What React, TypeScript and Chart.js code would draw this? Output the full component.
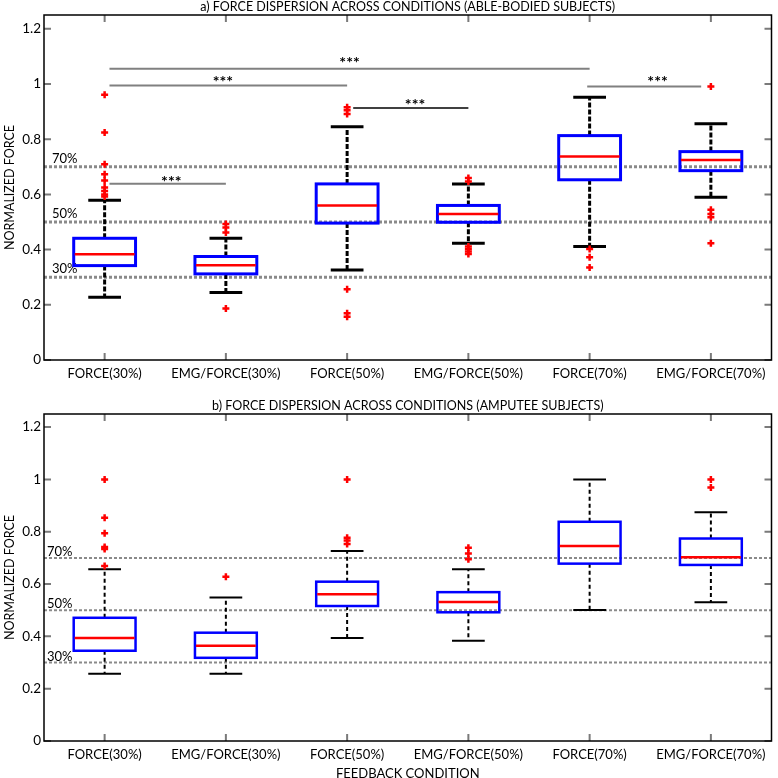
import React, { useEffect, useRef } from "react";
import { Chart, registerables } from "chart.js";

Chart.register(...registerables);

// ---------- data ----------
const categories = [
  "FORCE(30%)",
  "EMG/FORCE(30%)",
  "FORCE(50%)",
  "EMG/FORCE(50%)",
  "FORCE(70%)",
  "EMG/FORCE(70%)",
];
const yTickValues = [0, 0.2, 0.4, 0.6, 0.8, 1, 1.2];
const targetLevels = [0.3, 0.5, 0.7];
const targetLabels = ["30%", "50%", "70%"];
const yAxisTitle = "NORMALIZED FORCE";
const xAxisTitle = "FEEDBACK CONDITION";

// a) able-bodied subjects
const ableTitle = "a) FORCE DISPERSION ACROSS CONDITIONS (ABLE-BODIED SUBJECTS)";
const ableQ1 = [0.342, 0.312, 0.496, 0.499, 0.653, 0.686];
const ableMedian = [0.383, 0.343, 0.56, 0.529, 0.737, 0.725];
const ableQ3 = [0.441, 0.375, 0.638, 0.56, 0.813, 0.755];
const ableLow = [0.227, 0.245, 0.326, 0.423, 0.411, 0.59];
const ableHigh = [0.579, 0.441, 0.845, 0.638, 0.952, 0.856];
const ableOutliers = [
  [0.961, 0.824, 0.709, 0.673, 0.65, 0.625, 0.612, 0.6, 0.592],
  [0.493, 0.48, 0.462, 0.187],
  [0.916, 0.905, 0.891, 0.256, 0.169, 0.157],
  [0.659, 0.647, 0.411, 0.402, 0.393, 0.384],
  [0.402, 0.372, 0.335],
  [0.991, 0.544, 0.529, 0.517, 0.423],
];
// significance brackets (x in category units, 1..6)
const ableSigFrom = [1.04, 1.04, 1.04, 3.05, 4.98];
const ableSigTo = [2, 3, 5, 4, 5.92];
const ableSigY = [0.639, 0.995, 1.055, 0.913, 0.991];
const ableSigStarX = [1.55, 1.975, 3.02, 3.56, 5.56];
const ableSigStarY = [0.656, 1.018, 1.088, 0.933, 1.018];
const ableSigText = ["***", "***", "***", "***", "***"];

// b) amputee subjects
const ampTitle = "b) FORCE DISPERSION ACROSS CONDITIONS (AMPUTEE SUBJECTS)";
const ampQ1 = [0.345, 0.318, 0.516, 0.492, 0.678, 0.673];
const ampMedian = [0.394, 0.364, 0.561, 0.531, 0.745, 0.702];
const ampQ3 = [0.471, 0.414, 0.609, 0.569, 0.838, 0.774];
const ampLow = [0.257, 0.257, 0.394, 0.383, 0.501, 0.53];
const ampHigh = [0.657, 0.549, 0.726, 0.657, 1.0, 0.874];
const ampOutliers = [
  [1.0, 0.853, 0.794, 0.742, 0.734, 0.669],
  [0.628],
  [1.0, 0.777, 0.766, 0.753],
  [0.739, 0.717, 0.695],
  [],
  [1.0, 0.969],
];

// ---------- styles ----------
const FONT = "Lato, 'Open Sans', sans-serif";
const sigLineColors = ["#808080", "#808080", "#808080", "#000000", "#808080"];
const sigLineWidths = [2, 2, 2, 1.5, 2];

type PanelData = {
  title: string;
  q1: number[];
  median: number[];
  q3: number[];
  low: number[];
  high: number[];
  outliers: number[][];
  sigFrom: number[];
  sigTo: number[];
  sigY: number[];
  sigStarX: number[];
  sigStarY: number[];
  sigText: string[];
  xTitle: string | null;
};

type PanelStyle = {
  padTop: number;
  xAxisHeight: number;
  titleY: number;
  xTitleY: number;
  boxLine: number;
  whiskerLine: number;
  whiskerDash: number[];
  refLine: number;
  pctX: number;
  pctGap: number;
};

const W = 778;
const H = 389;

function BoxPanel({ d, s }: { d: PanelData; s: PanelStyle }) {
  const ref = useRef<HTMLCanvasElement>(null);

  useEffect(() => {
    const canvas = ref.current;
    if (!canvas) return;

    const points = d.outliers.flatMap((arr, i) =>
      arr.map((v) => ({ x: i + 1, y: v }))
    );

    const textCenterY = (ctx: CanvasRenderingContext2D, txt: string, cy: number) => {
      const m = ctx.measureText(txt);
      return cy + (m.actualBoundingBoxAscent - m.actualBoundingBoxDescent) / 2;
    };

    const boxPlugin = {
      id: "boxdraw",
      beforeDatasetsDraw(chart: any) {
        const { ctx, chartArea: a } = chart;
        const x = chart.scales.x;
        const y = chart.scales.y;
        const step = x.getPixelForValue(2) - x.getPixelForValue(1);
        const halfBox = step * 0.255;
        const halfCap = step * 0.135;

        ctx.save();
        ctx.beginPath();
        ctx.rect(a.left, a.top, a.right - a.left, a.bottom - a.top);
        ctx.clip();

        // target reference lines
        ctx.strokeStyle = "#8a8a8a";
        ctx.lineWidth = s.refLine;
        ctx.setLineDash([3, 2]);
        targetLevels.forEach((v) => {
          const py = y.getPixelForValue(v);
          ctx.beginPath();
          ctx.moveTo(a.left, py);
          ctx.lineTo(a.right, py);
          ctx.stroke();
        });
        ctx.setLineDash([]);

        // target labels
        ctx.fillStyle = "#000";
        ctx.font = `13px ${FONT}`;
        ctx.textAlign = "left";
        ctx.textBaseline = "alphabetic";
        targetLevels.forEach((v, i) => {
          const py = y.getPixelForValue(v);
          ctx.fillText(targetLabels[i], a.left + s.pctX, py - s.pctGap);
        });

        // significance brackets
        d.sigFrom.forEach((f, i) => {
          const py = y.getPixelForValue(d.sigY[i]);
          ctx.strokeStyle = sigLineColors[i];
          ctx.lineWidth = sigLineWidths[i];
          ctx.beginPath();
          ctx.moveTo(x.getPixelForValue(f), py);
          ctx.lineTo(x.getPixelForValue(d.sigTo[i]), py);
          ctx.stroke();
          ctx.fillStyle = "#000";
          ctx.font = `bold 16px ${FONT}`;
          ctx.textAlign = "center";
          const t = d.sigText[i];
          ctx.fillText(
            t,
            x.getPixelForValue(d.sigStarX[i]),
            textCenterY(ctx, t, y.getPixelForValue(d.sigStarY[i]))
          );
        });

        // boxes
        categories.forEach((_, i) => {
          const cx = x.getPixelForValue(i + 1);
          const pq1 = y.getPixelForValue(d.q1[i]);
          const pq3 = y.getPixelForValue(d.q3[i]);
          const pm = y.getPixelForValue(d.median[i]);
          const pl = y.getPixelForValue(d.low[i]);
          const ph = y.getPixelForValue(d.high[i]);

          // whiskers (dashed)
          ctx.strokeStyle = "#000";
          ctx.lineWidth = s.whiskerLine;
          ctx.setLineDash(s.whiskerDash);
          ctx.beginPath();
          ctx.moveTo(cx, pq3);
          ctx.lineTo(cx, ph);
          ctx.moveTo(cx, pq1);
          ctx.lineTo(cx, pl);
          ctx.stroke();
          ctx.setLineDash([]);
          // caps
          ctx.beginPath();
          ctx.moveTo(cx - halfCap, ph);
          ctx.lineTo(cx + halfCap, ph);
          ctx.moveTo(cx - halfCap, pl);
          ctx.lineTo(cx + halfCap, pl);
          ctx.stroke();

          // box
          ctx.strokeStyle = "#0000ff";
          ctx.lineWidth = s.boxLine;
          ctx.strokeRect(cx - halfBox, pq3, halfBox * 2, pq1 - pq3);

          // median
          ctx.strokeStyle = "#ff0000";
          ctx.lineWidth = 2.5;
          ctx.beginPath();
          ctx.moveTo(cx - halfBox + 1, pm);
          ctx.lineTo(cx + halfBox - 1, pm);
          ctx.stroke();
        });
        ctx.restore();
      },
      afterDraw(chart: any) {
        const { ctx, chartArea: a } = chart;
        const x = chart.scales.x;
        const y = chart.scales.y;
        ctx.save();
        // inner tick marks
        ctx.strokeStyle = "#7a7a7a";
        ctx.lineWidth = 2;
        yTickValues.forEach((v) => {
          const py = y.getPixelForValue(v);
          ctx.beginPath();
          ctx.moveTo(a.left, py);
          ctx.lineTo(a.left + 7, py);
          ctx.moveTo(a.right, py);
          ctx.lineTo(a.right - 7, py);
          ctx.stroke();
        });
        categories.forEach((_, i) => {
          const px = x.getPixelForValue(i + 1);
          ctx.beginPath();
          ctx.moveTo(px, a.top);
          ctx.lineTo(px, a.top + 7);
          ctx.moveTo(px, a.bottom);
          ctx.lineTo(px, a.bottom - 7);
          ctx.stroke();
        });
        // frame
        ctx.strokeStyle = "#000";
        ctx.lineWidth = 1.5;
        ctx.strokeRect(a.left, a.top, a.right - a.left, a.bottom - a.top);

        // titles
        ctx.fillStyle = "#000";
        ctx.font = `12.5px ${FONT}`;
        ctx.textAlign = "center";
        ctx.textBaseline = "alphabetic";
        const cx = (a.left + a.right) / 2;
        ctx.fillText(d.title, cx, textCenterY(ctx, "A", s.titleY));
        if (d.xTitle) {
          ctx.font = `13px ${FONT}`;
          ctx.fillText(d.xTitle, cx, textCenterY(ctx, "A", s.xTitleY));
        }
        ctx.font = `12.5px ${FONT}`;
        ctx.translate(9, (a.top + a.bottom) / 2);
        ctx.rotate(-Math.PI / 2);
        ctx.fillText(yAxisTitle, 0, textCenterY(ctx, "A", 0));
        ctx.restore();
      },
    };

    const chart = new Chart(canvas, {
      type: "scatter",
      data: {
        datasets: [
          {
            data: points,
            pointStyle: "cross",
            radius: 3.5,
            borderColor: "#ff0000",
            backgroundColor: "#ff0000",
            borderWidth: 2.5,
          },
        ],
      },
      options: {
        responsive: false,
        animation: false,
        layout: { padding: { top: s.padTop, right: 2, left: 0, bottom: 0 } },
        plugins: {
          legend: { display: false },
          tooltip: { enabled: false },
          title: { display: false },
        },
        scales: {
          x: {
            type: "linear",
            min: 0.5,
            max: 6.5,
            afterBuildTicks: (sc: any) => {
              sc.ticks = categories.map((_, i) => ({ value: i + 1 }));
            },
            afterFit: (sc: any) => {
              sc.height = s.xAxisHeight;
            },
            grid: { display: false, drawTicks: false },
            border: { display: false },
            ticks: {
              autoSkip: false,
              maxRotation: 0,
              padding: 6,
              color: "#000",
              font: { family: FONT, size: 13 },
              callback: (v: any) => categories[Math.round(Number(v)) - 1] ?? "",
            },
          },
          y: {
            type: "linear",
            min: 0,
            max: 1.25,
            afterBuildTicks: (sc: any) => {
              sc.ticks = yTickValues.map((v) => ({ value: v }));
            },
            afterFit: (sc: any) => {
              sc.width = 44;
            },
            grid: { display: false, drawTicks: false },
            border: { display: false },
            ticks: {
              padding: 3,
              color: "#000",
              font: { family: FONT, size: 13.5 },
              callback: (v: any) => String(Number(v)),
            },
          },
        },
      },
      plugins: [boxPlugin],
    } as any);

    return () => chart.destroy();
  }, []);

  return <canvas ref={ref} width={W} height={H} style={{ display: "block" }} />;
}

const ablePanel: PanelData = {
  title: ableTitle,
  q1: ableQ1,
  median: ableMedian,
  q3: ableQ3,
  low: ableLow,
  high: ableHigh,
  outliers: ableOutliers,
  sigFrom: ableSigFrom,
  sigTo: ableSigTo,
  sigY: ableSigY,
  sigStarX: ableSigStarX,
  sigStarY: ableSigStarY,
  sigText: ableSigText,
  xTitle: null,
};

const ampPanel: PanelData = {
  title: ampTitle,
  q1: ampQ1,
  median: ampMedian,
  q3: ampQ3,
  low: ampLow,
  high: ampHigh,
  outliers: ampOutliers,
  sigFrom: [],
  sigTo: [],
  sigY: [],
  sigStarX: [],
  sigStarY: [],
  sigText: [],
  xTitle: xAxisTitle,
};

const topStyle: PanelStyle = {
  padTop: 15,
  xAxisHeight: 29,
  titleY: 6,
  xTitleY: 0,
  boxLine: 3,
  whiskerLine: 3,
  whiskerDash: [5, 2],
  refLine: 3,
  pctX: 8,
  pctGap: 4,
};

const bottomStyle: PanelStyle = {
  padTop: 25,
  xAxisHeight: 37,
  titleY: 16,
  xTitleY: 384,
  boxLine: 2.5,
  whiskerLine: 2,
  whiskerDash: [4, 3],
  refLine: 2,
  pctX: 3,
  pctGap: 2,
};

export default function App() {
  return (
    <div
      style={{
        position: "absolute",
        left: 0,
        top: 0,
        width: W,
        height: W,
        background: "#fff",
      }}
    >
      <BoxPanel d={ablePanel} s={topStyle} />
      <BoxPanel d={ampPanel} s={bottomStyle} />
    </div>
  );
}
